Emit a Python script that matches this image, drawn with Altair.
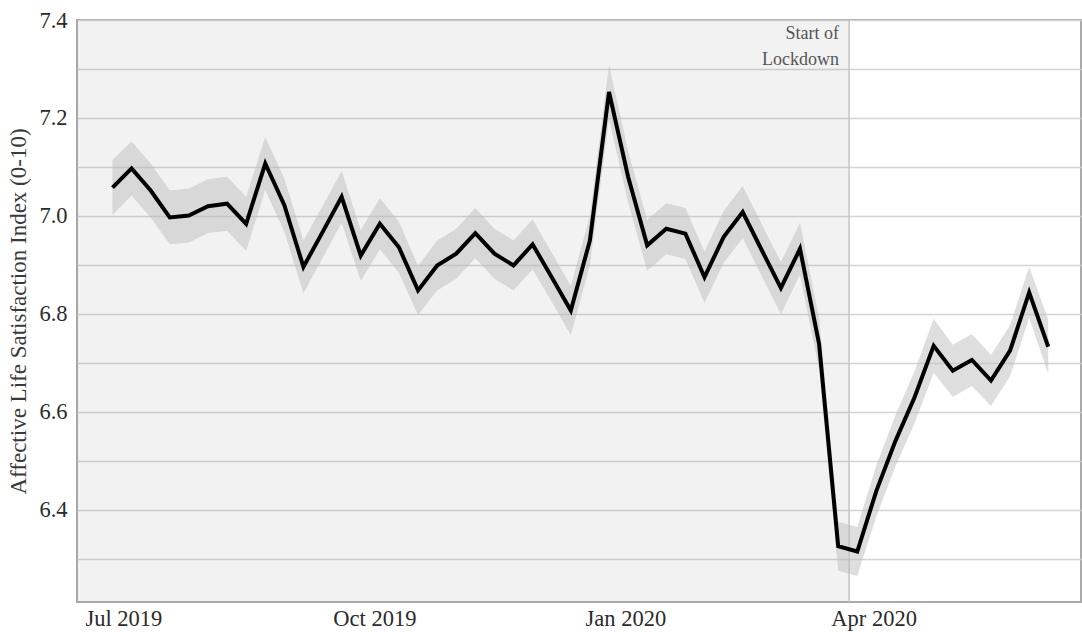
import altair as alt
import pandas as pd

# ---- data ----
week_start = "2019-06-27"          # first weekly observation
values = [7.058, 7.097, 7.052, 6.997, 7.001, 7.020, 7.025, 6.984, 7.107, 7.022,
          6.896, 6.967, 7.039, 6.919, 6.984, 6.936, 6.848, 6.899, 6.923, 6.965,
          6.923, 6.899, 6.942, 6.875, 6.807, 6.950, 7.253, 7.080, 6.940, 6.974,
          6.964, 6.875, 6.957, 7.008, 6.930, 6.853, 6.933, 6.739, 6.326, 6.315,
          6.439, 6.541, 6.630, 6.735, 6.684, 6.706, 6.664, 6.725, 6.844, 6.733]
ci_half = [0.056, 0.055, 0.055, 0.055, 0.055, 0.055, 0.055, 0.055, 0.054, 0.054,
           0.054, 0.053, 0.053, 0.052, 0.052, 0.052, 0.050, 0.051, 0.051, 0.051,
           0.051, 0.051, 0.051, 0.050, 0.050, 0.050, 0.055, 0.052, 0.052, 0.052,
           0.052, 0.052, 0.053, 0.053, 0.053, 0.053, 0.053, 0.052, 0.050, 0.050,
           0.052, 0.052, 0.053, 0.055, 0.053, 0.053, 0.052, 0.052, 0.052, 0.055]
lockdown_date = "2020-03-23"
lockdown_label = "Start of\nLockdown"
period_start = "2019-06-14"
y_ticks = [6.3, 6.4, 6.5, 6.6, 6.7, 6.8, 6.9, 7.0, 7.1, 7.2, 7.3, 7.4]
x_ticks = ["2019-07-01", "2019-10-01", "2020-01-01", "2020-04-01"]
y_title = "Affective Life Satisfaction Index (0-10)"

dates = pd.date_range(week_start, periods=len(values), freq="7D")
df = pd.DataFrame({
    "date": dates,
    "value": values,
    "lower": [v - c for v, c in zip(values, ci_half)],
    "upper": [v + c for v, c in zip(values, ci_half)],
})
bg_df = pd.DataFrame({"start": [pd.Timestamp(period_start)], "end": [pd.Timestamp(lockdown_date)]})
ld_df = pd.DataFrame({"date": [pd.Timestamp(lockdown_date)], "label": [lockdown_label]})

FONT = "Liberation Serif"

def dt(s):
    t = pd.Timestamp(s)
    return alt.DateTime(year=t.year, month=t.month, date=t.day)

x_scale = alt.Scale(domain=[alt.DateTime(year=2019, month=6, date=14),
                            alt.DateTime(year=2020, month=6, date=16)])
y_scale = alt.Scale(domain=[6.212, 7.4], nice=False, zero=False)

x_axis = alt.Axis(values=[dt(s) for s in x_ticks], format="%b %Y", grid=False,
                  ticks=False, domain=False, labelFont=FONT, labelFontSize=22.5,
                  labelColor="#2b2b2b", labelPadding=5, labelFlush=False,
                  labelOverlap=False, title=None)
y_axis = alt.Axis(values=y_ticks,
                  labelExpr="round(datum.value*10) % 2 == 0 ? format(datum.value, '.1f') : ''",
                  grid=True, gridColor="#d4d4d4", gridWidth=1.5, ticks=False,
                  domain=False, labelFont=FONT, labelFontSize=22.5, labelColor="#2b2b2b",
                  labelPadding=10, labelOverlap=False, title=y_title,
                  titleFont=FONT, titleFontSize=23, titleFontWeight="normal",
                  titleColor="#3a3a3a", titlePadding=8)

bg = alt.Chart(bg_df).mark_rect(color="#808080", opacity=0.1).encode(
    x=alt.X("start:T", scale=x_scale, axis=x_axis),
    x2="end:T",
)

band = alt.Chart(df).mark_area(color="#bdbdbd", opacity=0.5).encode(
    x=alt.X("date:T", scale=x_scale, axis=x_axis),
    y=alt.Y("lower:Q", scale=y_scale, axis=y_axis),
    y2="upper:Q",
)

line = alt.Chart(df).mark_line(color="black", strokeWidth=4).encode(
    x=alt.X("date:T", scale=x_scale, axis=x_axis),
    y=alt.Y("value:Q", scale=y_scale, axis=y_axis),
)

rule = alt.Chart(ld_df).mark_rule(color="#c4c4c4", strokeWidth=1.5).encode(
    x=alt.X("date:T", scale=x_scale, axis=x_axis),
)

text = alt.Chart(ld_df).mark_text(align="right", baseline="top", dx=-10,
                                  font=FONT, fontSize=18, color="#555555",
                                  lineBreak="\n", lineHeight=26).encode(
    x=alt.X("date:T", scale=x_scale, axis=x_axis),
    y=alt.value(5),
    text="label:N",
)

chart = alt.layer(bg, rule, band, line, text).properties(
    width=1004, height=582,
    autosize=alt.AutoSizeParams(type="none"),
    padding={"left": 77, "top": 20, "right": 1, "bottom": 30},
    background="white",
).configure_view(stroke="#aaaaaa", strokeWidth=2)

chart.save("out.html", embed_options={"renderer": "svg", "actions": False})
